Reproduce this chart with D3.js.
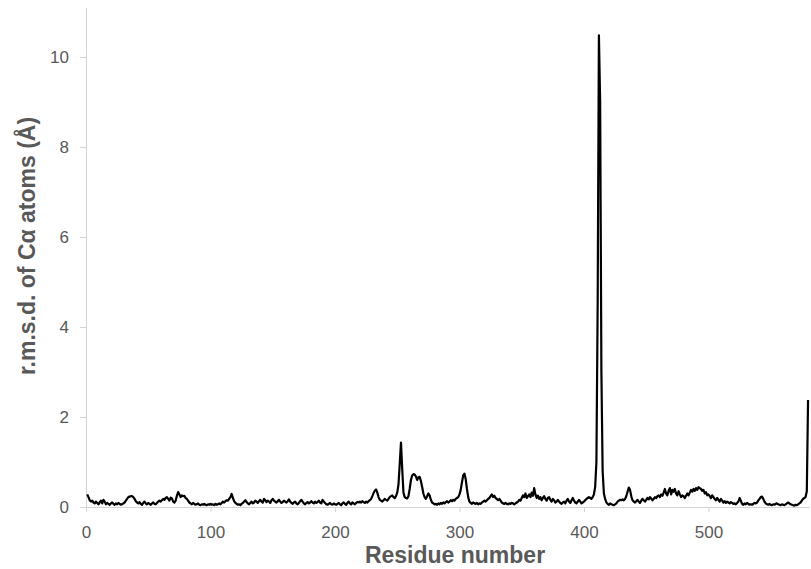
<!DOCTYPE html>
<html>
<head>
<meta charset="utf-8">
<script src="https://cdn.jsdelivr.net/npm/d3@7"></script>
<style>
  body { margin: 0; background: #fff; }
  .axis path, .axis line { stroke: #d4d4d4; }
  .axis text { fill: #595959; font-family: "Liberation Sans", Arial, sans-serif; font-size: 17px; }
  .title { fill: #595959; font-family: "Liberation Sans", Arial, sans-serif; font-size: 23px; font-weight: bold; }
</style>
</head>
<body>
<div id="chart"></div>
<script>
// r.m.s.d. per residue (residue 1..580)
const rmsd = [
  0.28,0.22,0.15,0.12,0.14,0.10,0.08,0.12,0.09,0.06,0.10,0.14,0.08,0.16,0.12,0.06,0.09,0.07,0.05,0.08,
  0.10,0.07,0.05,0.08,0.06,0.09,0.07,0.05,0.06,0.08,0.10,0.14,0.18,0.22,0.23,0.24,0.24,0.22,0.18,0.13,
  0.10,0.08,0.11,0.07,0.05,0.09,0.12,0.08,0.06,0.09,0.07,0.05,0.08,0.10,0.07,0.06,0.09,0.12,0.14,0.12,
  0.15,0.18,0.16,0.20,0.22,0.18,0.14,0.21,0.19,0.12,0.10,0.14,0.25,0.33,0.28,0.22,0.26,0.24,0.25,0.20,
  0.18,0.14,0.10,0.08,0.06,0.09,0.07,0.05,0.06,0.08,0.05,0.04,0.06,0.05,0.07,0.05,0.04,0.06,0.05,0.07,
  0.05,0.06,0.04,0.07,0.05,0.06,0.08,0.06,0.09,0.12,0.10,0.13,0.15,0.14,0.18,0.22,0.29,0.20,0.13,0.09,
  0.07,0.05,0.06,0.04,0.07,0.09,0.12,0.15,0.11,0.08,0.06,0.09,0.12,0.08,0.10,0.14,0.12,0.09,0.13,0.16,
  0.12,0.10,0.18,0.15,0.11,0.14,0.12,0.09,0.15,0.18,0.14,0.12,0.10,0.13,0.16,0.12,0.09,0.11,0.14,0.12,
  0.10,0.13,0.17,0.12,0.09,0.07,0.10,0.12,0.08,0.06,0.09,0.13,0.16,0.12,0.08,0.06,0.09,0.11,0.08,0.10,
  0.13,0.10,0.08,0.12,0.09,0.11,0.14,0.10,0.08,0.16,0.12,0.09,0.06,0.05,0.07,0.09,0.06,0.05,0.08,0.06,
  0.05,0.07,0.09,0.06,0.04,0.08,0.10,0.07,0.05,0.09,0.12,0.08,0.06,0.10,0.08,0.06,0.09,0.11,0.10,0.12,
  0.10,0.13,0.11,0.09,0.12,0.10,0.13,0.15,0.18,0.24,0.31,0.36,0.39,0.32,0.22,0.16,0.14,0.12,0.15,0.18,
  0.16,0.14,0.18,0.22,0.24,0.26,0.22,0.20,0.24,0.32,0.50,0.95,1.43,0.85,0.32,0.22,0.20,0.19,0.24,0.40,
  0.60,0.70,0.73,0.72,0.68,0.60,0.66,0.67,0.58,0.45,0.30,0.22,0.18,0.24,0.30,0.26,0.16,0.10,0.08,0.06,
  0.07,0.05,0.08,0.06,0.09,0.07,0.10,0.08,0.11,0.13,0.10,0.12,0.15,0.13,0.16,0.14,0.18,0.20,0.22,0.28,
  0.38,0.55,0.70,0.74,0.62,0.40,0.22,0.12,0.09,0.07,0.10,0.08,0.07,0.09,0.06,0.08,0.07,0.10,0.12,0.14,
  0.12,0.15,0.18,0.20,0.24,0.28,0.22,0.25,0.20,0.18,0.15,0.18,0.14,0.10,0.08,0.07,0.09,0.07,0.06,0.08,
  0.07,0.09,0.08,0.06,0.08,0.10,0.12,0.16,0.14,0.20,0.26,0.22,0.30,0.20,0.24,0.28,0.22,0.32,0.25,0.42,
  0.28,0.20,0.25,0.18,0.22,0.15,0.20,0.24,0.18,0.14,0.20,0.22,0.16,0.12,0.18,0.15,0.10,0.12,0.16,0.12,
  0.09,0.07,0.10,0.12,0.08,0.14,0.18,0.12,0.09,0.15,0.20,0.14,0.10,0.08,0.12,0.16,0.12,0.08,0.10,0.12,
  0.15,0.18,0.20,0.22,0.20,0.18,0.22,0.28,0.45,1.00,4.50,10.48,9.00,3.00,0.80,0.30,0.18,0.10,0.07,0.05,
  0.08,0.06,0.05,0.04,0.06,0.08,0.12,0.14,0.16,0.15,0.17,0.15,0.18,0.24,0.34,0.43,0.38,0.24,0.15,0.12,
  0.10,0.13,0.16,0.12,0.09,0.14,0.18,0.15,0.12,0.16,0.20,0.17,0.22,0.19,0.15,0.18,0.22,0.20,0.24,0.26,
  0.22,0.28,0.25,0.32,0.40,0.30,0.26,0.36,0.42,0.28,0.38,0.34,0.40,0.30,0.26,0.35,0.28,0.22,0.26,0.24,
  0.20,0.25,0.30,0.26,0.32,0.38,0.34,0.40,0.36,0.42,0.38,0.44,0.42,0.40,0.36,0.38,0.30,0.33,0.26,0.28,
  0.24,0.20,0.26,0.22,0.18,0.15,0.20,0.16,0.12,0.18,0.14,0.10,0.13,0.09,0.12,0.10,0.08,0.11,0.09,0.07,
  0.08,0.06,0.09,0.12,0.20,0.14,0.07,0.05,0.08,0.06,0.09,0.07,0.05,0.06,0.05,0.07,0.09,0.08,0.10,0.14,
  0.18,0.22,0.23,0.18,0.12,0.08,0.06,0.05,0.07,0.05,0.04,0.06,0.05,0.07,0.08,0.06,0.05,0.04,0.06,0.05,
  0.04,0.06,0.08,0.10,0.08,0.06,0.05,0.04,0.03,0.05,0.04,0.06,0.08,0.10,0.14,0.18,0.20,0.22,0.35,2.38
];
const xTicks = [0, 100, 200, 300, 400, 500];
const yTicks = [0, 2, 4, 6, 8, 10];
const xLabel = 'Residue number';
const yLabel = 'r.m.s.d. of C\u03b1 atoms (\u00c5)';

const width = 811;
const height = 569;

const svg = d3.select('#chart').append('svg')
  .attr('width', width)
  .attr('height', height);

const x = d3.scaleLinear().domain([0, 581]).range([86, 809.3]);
const y = d3.scaleLinear().domain([0, 11.1]).range([507, 7.5]);

// axes
svg.append('g').attr('class', 'axis')
  .attr('transform', `translate(0,${y(0)})`)
  .call(d3.axisBottom(x).tickValues(xTicks).tickSize(5).tickSizeOuter(0).tickPadding(14))
  .call(g => g.selectAll('text').attr('dy', '0.71em'));

svg.append('g').attr('class', 'axis')
  .attr('transform', `translate(${x(0)},0)`)
  .call(d3.axisLeft(y).tickValues(yTicks).tickSize(6).tickSizeOuter(0).tickPadding(11));

// line
const line = d3.line()
  .x((d, i) => x(i + 1))
  .y(d => y(d));

svg.append('path')
  .datum(rmsd)
  .attr('fill', 'none')
  .attr('stroke', '#000')
  .attr('stroke-width', 2.2)
  .attr('stroke-linejoin', 'round')
  .attr('d', line);

// titles
svg.append('text').attr('class', 'title')
  .attr('x', 455).attr('y', 563)
  .attr('text-anchor', 'middle')
  .text(xLabel);

svg.append('text').attr('class', 'title')
  .attr('transform', 'translate(35,246) rotate(-90)')
  .attr('text-anchor', 'middle')
  .text(yLabel);
</script>
</body>
</html>
